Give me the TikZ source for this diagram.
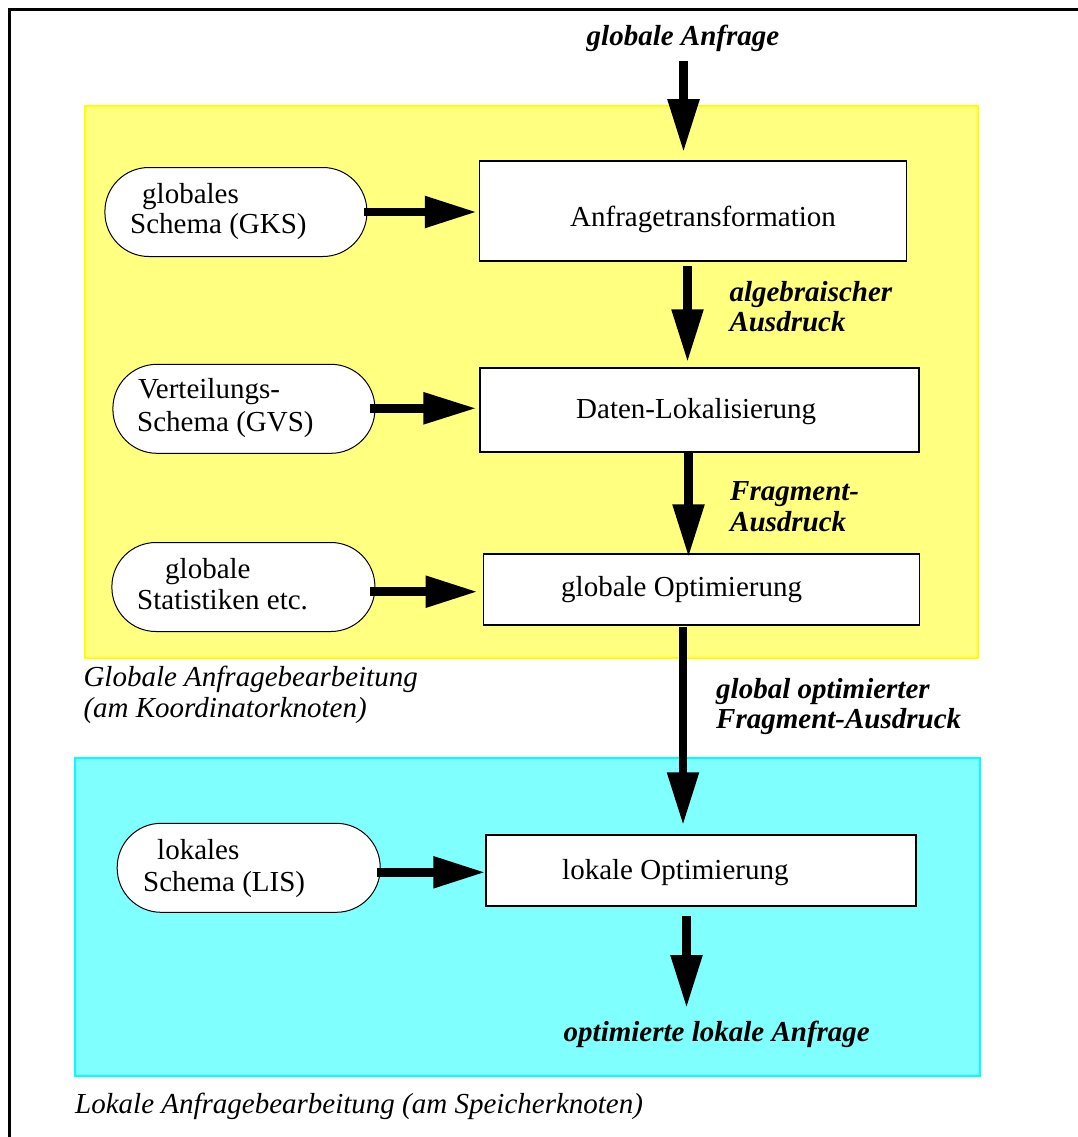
\documentclass[tikz,border=0pt]{standalone}
\usepackage{fontspec}
\setmainfont{Liberation Serif}
\usetikzlibrary{arrows.meta}
\definecolor{areaYellow}{RGB}{255,255,128}
\definecolor{edgeYellow}{RGB}{255,255,0}
\definecolor{areaCyan}{RGB}{128,255,255}
\definecolor{edgeCyan}{RGB}{0,255,255}
\begin{document}
\begin{tikzpicture}[x=1pt,y=-1pt,
  every node/.style={font=\fontsize{29}{32}\selectfont, inner sep=0pt},
  procbox/.style={draw, line width=1.5pt, fill=white, rectangle},
  store/.style={draw, line width=1pt, fill=white, rectangle, rounded corners=44pt},
  bigarrow/.style={line width=8.5pt, -{Triangle[width=30pt,length=53pt]}},
  flowlabel/.style={font=\fontsize{29}{32}\selectfont\bfseries\itshape, anchor=base west},
  arealabel/.style={font=\fontsize{29}{32}\selectfont\itshape, anchor=base west},
  plain/.style={anchor=base west}
]
\useasboundingbox (0,0) rectangle (1078,1137);

% processing areas
\draw[fill=areaYellow, draw=edgeYellow, line width=2pt] (85,106) rectangle (978,658);
\draw[fill=areaCyan, draw=edgeCyan, line width=2pt] (75,758) rectangle (980,1076);

% outer frame (top and left edges)
\draw[line width=3.5pt] (9.5,1137) -- (9.5,9.5) -- (1078,9.5);

% processing steps
\node[procbox, minimum width=427pt, minimum height=100pt] (b1) at (693,211) {};
\node[procbox, minimum width=439pt, minimum height=84pt] (b2) at (699.7,410) {};
\node[procbox, minimum width=436pt, minimum height=71pt] (b3) at (701.3,589.5) {};
\node[procbox, minimum width=430pt, minimum height=71pt] (b4) at (701,870.5) {};

\node[plain] (t1) at (570,226) {Anfragetransformation};
\node[plain] (t2) at (576,418) {Daten-Lokalisierung};
\node[plain] (t3) at (561,596) {globale Optimierung};
\node[plain] (t4) at (562,879) {lokale Optimierung};

% schema stores
\node[store, minimum width=262pt, minimum height=89pt] (gks) at (235.9,212) {};
\node[store, minimum width=262pt, minimum height=89pt] (gvs) at (243.9,408.8) {};
\node[store, minimum width=263pt, minimum height=89pt] (stat) at (243.4,587) {};
\node[store, minimum width=263pt, minimum height=89pt] (lis) at (248.7,867.8) {};

\node[plain] (gks1) at (142,203) {globales};
\node[plain] (gks2) at (130,233) {Schema (GKS)};
\node[plain] (gvs1) at (138,398) {Verteilungs-};
\node[plain] (gvs2) at (137,431) {Schema (GVS)};
\node[plain] (stat1) at (165,578) {globale};
\node[plain] (stat2) at (137,609) {Statistiken etc.};
\node[plain] (lis1) at (157,859) {lokales};
\node[plain] (lis2) at (143,891) {Schema (LIS)};

% flow labels
\node[flowlabel, anchor=base] (qin) at (683,46) {globale Anfrage};
\node[flowlabel] (l1a) at (729.3,301.7) {algebraischer};
\node[flowlabel] (l1b) at (729.3,331.7) {Ausdruck};
\node[flowlabel] (l2a) at (730,500) {Fragment-};
\node[flowlabel] (l2b) at (730,531.7) {Ausdruck};
\node[flowlabel] (l3a) at (716,698) {global optimierter};
\node[flowlabel] (l3b) at (716,728) {Fragment-Ausdruck};
\node[flowlabel, anchor=base east] (qout) at (870,1041.7) {optimierte lokale Anfrage};

% area labels
\node[arealabel] (ga1) at (83.3,686.7) {Globale Anfragebearbeitung};
\node[arealabel] (ga2) at (83.3,717.3) {(am Koordinatorknoten)};
\node[arealabel] (la) at (75,1113) {Lokale Anfragebearbeitung (am Speicherknoten)};

% vertical flow
\coordinate (inTop) at (683.5,61);
\coordinate (c2) at (687.5,0);
\coordinate (c3) at (688.5,0);
\coordinate (c4) at (683,0);
\coordinate (outTip) at (686.5,1008);

\draw[bigarrow, shorten >=8pt] (inTop) -- (inTop |- b1.north);
\draw[bigarrow, shorten <=4pt, shorten >=5pt] (c2 |- b1.south) -- (c2 |- b2.north);
\draw[bigarrow, shorten >=-4pt] (c3 |- b2.south) -- (c3 |- b3.north);
\draw[bigarrow, shorten <=1pt, shorten >=9pt] (c4 |- b3.south) -- (c4 |- b4.north);
\draw[bigarrow, shorten <=9pt] (outTip |- b4.south) -- (outTip);

% schema inputs
\draw[bigarrow, shorten >=2pt, -{Triangle[width=30pt,length=52pt]}] ([xshift=-3.4pt]gks.east) -- (gks.east -| b1.west);
\draw[bigarrow, shorten >=3pt, -{Triangle[width=30pt,length=53pt]}] ([xshift=-5pt,yshift=0.5pt]gvs.east) -- ([yshift=0.5pt]gvs.east -| b2.west);
\draw[bigarrow, shorten >=5pt, -{Triangle[width=30pt,length=52pt]}] ([xshift=-5pt,yshift=-4.7pt]stat.east) -- ([yshift=-4.7pt]stat.east -| b3.west);
\draw[bigarrow, -{Triangle[width=30pt,length=52pt]}] ([xshift=-3.3pt,yshift=-4.5pt]lis.east) -- ([yshift=-4.5pt]lis.east -| b4.west);
\end{tikzpicture}
\end{document}
